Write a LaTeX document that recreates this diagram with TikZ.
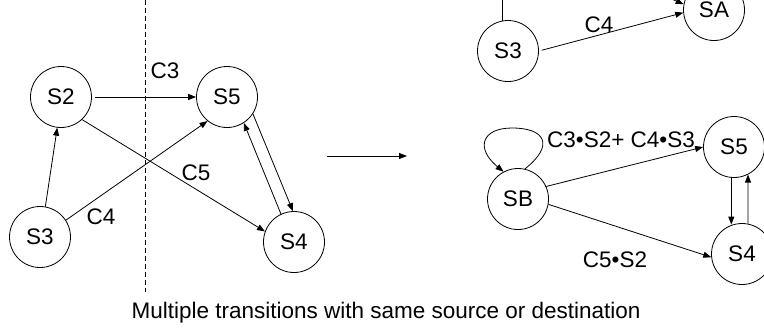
\documentclass[tikz,border=0pt]{standalone}
\usepackage{fontspec}
\setmainfont{Liberation Sans}
\usetikzlibrary{arrows.meta}
\tikzset{
  state/.style={draw, circle, line width=0.8pt, minimum size=61pt, inner sep=0pt,
    font=\fontsize{22.5}{26}\selectfont},
  arr/.style={line width=0.8pt, -{Triangle[length=8pt,width=6pt]}},
  plain/.style={line width=0.8pt},
  lbl/.style={anchor=base, inner sep=0pt, font=\fontsize{22.5}{26}\selectfont},
}
\begin{document}
\begin{tikzpicture}[x=1pt, y=-1pt]
\useasboundingbox (0,0) rectangle (764,333);
\clip (0,0) rectangle (764,333);

% ---- original machine ----
\node[state] (S2) at (61,97) {S2};
\node[state] (S5) at (227,97) {S5};
\node[state] (S3) at (40,237) {S3};
\node[state] (S4) at (294,242) {S4};

\coordinate (cutTop) at (145,0);
\coordinate (cutBot) at (145,292);
\draw[line width=0.8pt, dash pattern=on 5pt off 3pt] (cutTop) -- (cutBot);

\draw[arr, shorten <=3pt] (S2.east) -- (S5.west);
\draw[arr] (S2.-47) -- (S4.160);
\draw[arr] (S3.33) -- (S5.-129);
\draw[arr] (S3.80) -- (S2.-97);
\draw[arr] (S5.-33) -- (S4.92);
\draw[arr] (S4.115) -- (S5.-57);

\node[lbl] (lC3) at (165,78) {C3};
\node[lbl] (lC5) at (196,180) {C5};
\node[lbl] (lC4) at (101,224) {C4};

% ---- transformation arrow ----
\coordinate (mA) at (327,156);
\coordinate (mB) at (407,156);
\draw[arr] (mA) -- (mB);

% ---- reduced machine (upper part) ----
\node[state] (S3r) at (508,51) {S3};
\node[state] (SA) at (714,10) {SA};
\coordinate (upA) at (502,-20);
\coordinate (upB) at (650,-10);
\draw[plain] (S3r.101) -- (S3r.101 |- upA);
\draw[arr] (upB) -- (SA.169);
\draw[arr, shorten <=3pt] (S3r.east) -- (SA.-175);
\node[lbl] (lC4r) at (599,32) {C4};

% ---- reduced machine (lower part) ----
\node[state] (SB) at (518,199) {SB};
\node[state] (S5r) at (734,147) {S5};
\node[state] (S4r) at (742,254) {S4};

\draw[arr] (SB.77) .. controls (555,145) and (545,128) .. (512,128)
                  .. controls (482,128) and (475,148) .. (SB.118);
\draw[arr] (SB.24) -- (S5r.180);
\draw[arr] (SB.-10) -- (S4r.186);
\draw[arr] (S5r.-95) -- (S5r.-95 |- S4r.108);
\draw[arr] (S4r.79) -- (S5r.-63);

\node[lbl] (lTop) at (621,147) {C3•S2+ C4•S3};
\node[lbl] (lBot) at (615,267) {C5•S2};

% ---- caption ----
\node[lbl] (cap) at (386,318) {Multiple transitions with same source or destination};
\end{tikzpicture}
\end{document}
